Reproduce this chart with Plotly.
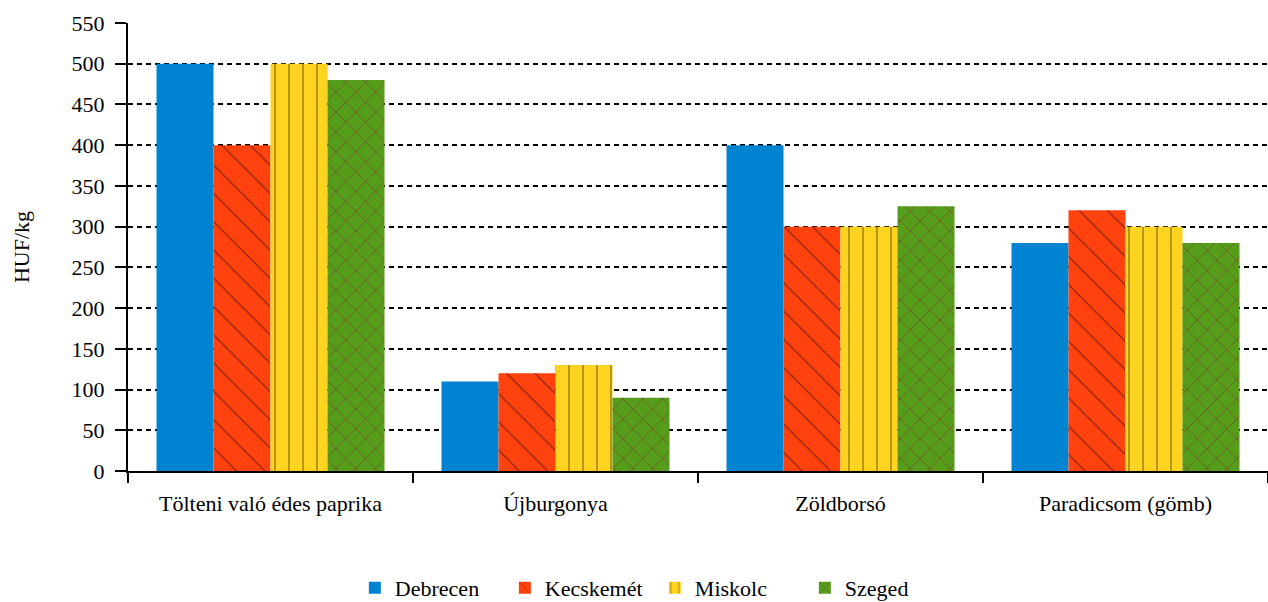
import plotly.graph_objects as go

categories = ["Tölteni való édes paprika", "Újburgonya", "Zöldborsó", "Paradicsom (gömb)"]
series_names = ["Debrecen", "Kecskemét", "Miskolc", "Szeged"]
debrecen = [500, 110, 400, 280]
kecskemet = [400, 120, 300, 320]
miskolc = [500, 130, 300, 300]
szeged = [480, 90, 325, 280]
y_ticks = list(range(0, 551, 50))

colors = ["#0084d1", "#ff420e", "#ffd320", "#579d1c"]
patterns = [
    dict(shape=""),
    dict(shape="\\", fgcolor="#000000", size=20, solidity=0.06, fillmode="overlay"),
    dict(shape="|", fgcolor="#2a2000", size=14, solidity=0.1, fillmode="overlay"),
    dict(shape="x", fgcolor="#7e0021", size=14, solidity=0.1, fillmode="overlay"),
]
values = [debrecen, kecskemet, miskolc, szeged]

fig = go.Figure()
for name, vals, col, pat in zip(series_names, values, colors, patterns):
    fig.add_trace(go.Bar(
        x=categories, y=vals, name=name,
        marker=dict(color=col, line=dict(width=0), pattern=pat),
    ))

font = "Liberation Serif, Times New Roman, serif"
fs = 22
fig.update_layout(
    width=1268, height=602,
    margin=dict(l=128, r=0, t=23, b=131, autoexpand=False),
    paper_bgcolor="white", plot_bgcolor="white",
    barmode="group", bargap=0.2, bargroupgap=0,
    font=dict(family=font, size=fs, color="black"),
    showlegend=True,
    legend=dict(orientation="h", x=0.199, xanchor="left", y=-0.261, yanchor="middle",
                font=dict(family=font, size=fs), itemwidth=30, entrywidth=105,
                entrywidthmode="pixels", tracegroupgap=0),
    xaxis=dict(
        showline=True, linecolor="black", linewidth=2,
        ticks="outside", tickson="boundaries", ticklen=10, tickwidth=2, tickcolor="black",
        showgrid=False, tickfont=dict(family=font, size=fs), ticklabelstandoff=12,
    ),
    yaxis=dict(
        title=dict(text="HUF/kg", font=dict(family=font, size=fs), standoff=36),
        range=[0, 550], tickvals=y_ticks, showline=True, linecolor="black", linewidth=2,
        ticks="outside", ticklen=11, tickwidth=2, tickcolor="black",
        showgrid=True, gridcolor="black", gridwidth=2, griddash="5px,4px",
        zeroline=False, tickfont=dict(family=font, size=fs), ticklabelstandoff=6,
    ),
)

fig.write_html("out.html", config={"displayModeBar": False},
               post_script="document.body.style.margin='0';document.body.style.overflow='hidden';")
